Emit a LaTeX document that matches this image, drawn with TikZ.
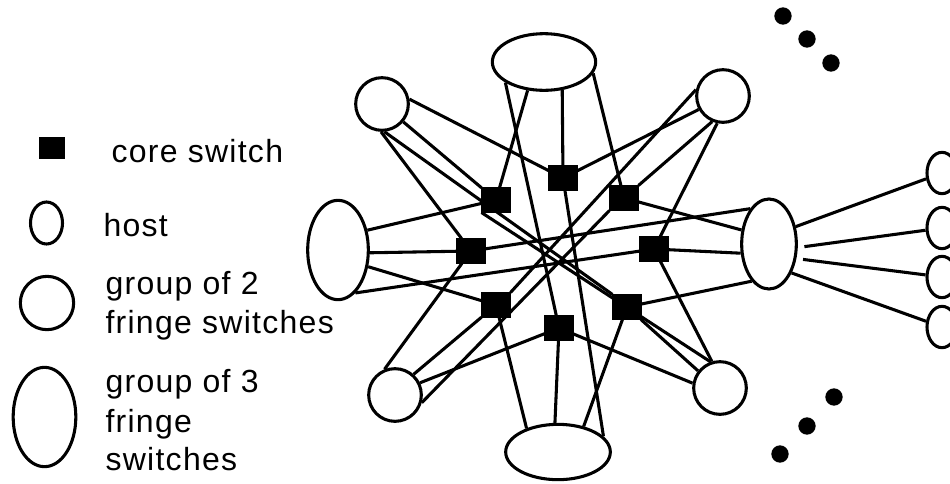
\documentclass[tikz,border=0pt]{standalone}
\usepackage{fontspec}
\setmainfont{Liberation Sans}[LetterSpace=4]
\usetikzlibrary{shapes.geometric}
\begin{document}
\begin{tikzpicture}[x=0.75pt,y=-0.75pt,line width=2.3pt,
  link/.style={draw=black,line width=2.3pt},
  core/.style={rectangle,fill=black,draw=none,inner sep=0pt,minimum width=19.5pt,minimum height=16.5pt},
  fringetwo/.style={circle,draw,line width=2.3pt,fill=white,inner sep=0pt,minimum size=39.5pt},
  fringethree/.style={ellipse,draw,line width=2.3pt,fill=white,inner sep=0pt},
  hostnode/.style={ellipse,draw,line width=2.3pt,fill=white,inner sep=0pt,minimum width=22.5pt,minimum height=31pt},
  dotnode/.style={circle,fill=black,draw=none,inner sep=0pt,minimum size=13pt},
  legendtext/.style={anchor=base west,inner sep=0pt,font=\fontsize{24}{28}\selectfont}]
\useasboundingbox (0,0) rectangle (950,483);
\clip (0,0) rectangle (950,483);

% core switches
\node[core] (S1) at (496,200) {};
\node[core] (S2) at (563,178) {};
\node[core] (S3) at (624,198) {};
\node[core] (S4) at (471,251) {};
\node[core] (S5) at (654,249) {};
\node[core] (S6) at (496,305) {};
\node[core] (S7) at (627,307) {};
\node[core] (S8) at (559,328) {};

% fringe groups: three switches (ellipses), two switches (circles)
\node[fringethree,minimum width=77.5pt,minimum height=42.5pt] (T) at (544,62) {};
\node[fringethree,minimum width=78.5pt,minimum height=41.5pt] (B) at (558,452) {};
\node[fringethree,minimum width=45.5pt,minimum height=74.5pt] (L) at (338,250) {};
\node[fringethree,minimum width=41pt,minimum height=67.5pt] (R) at (769,244) {};
\node[fringetwo] (TL) at (382,104) {};
\node[fringetwo] (TR) at (723,96) {};
\node[fringetwo] (BL) at (395,395) {};
\node[fringetwo] (BR) at (720,388) {};

% hosts
\node[hostnode] (H1) at (942,173) {};
\node[hostnode] (H2) at (942,228) {};
\node[hostnode] (H3) at (942,277) {};
\node[hostnode] (H4) at (942,327) {};

% links between fringe groups and core switches
\draw[link] (TL.10) -- (S2);
\draw[link] (TL.-40) -- (S1);
\draw[link] (TL.-85) -- (S7.north west);
\draw[link] (TL.-92) -- (S4);
\draw[link] (TR.-151) -- (S2);
\draw[link] (TR.167) -- (S6.north east);
\draw[link] (TR.-113) -- (S3);
\draw[link] (TR.-102) -- (S5);
\draw[link] (BL.112) -- (S4);
\draw[link] (BL.48) -- (S6);
\draw[link] (BL.26) -- (S8);
\draw[link] (BL.-16) -- (S3.south west);
\draw[link] (BR.107) -- (S5);
\draw[link] (BR.142) -- (S7);
\draw[link] (BR.110) -- (S1.south west);
\draw[link] (BR.170) -- (S8);
\draw[link] (T.-152) -- (S8);
\draw[link] (T.-120) -- (S1);
\draw[link] (T.-57) -- (S2);
\draw[link] (T.-13) -- (S3);
\draw[link] (B.143) -- (S6);
\draw[link] (B.96) -- (S8);
\draw[link] (B.45) -- (S7);
\draw[link] (B.19) -- (S2);
\draw[link] (L.34) -- (S1);
\draw[link] (L.-5) -- (S4);
\draw[link] (L.-29) -- (S6);
\draw[link] (L.-68) -- (S5);
\draw[link] (R.118) -- (S4);
\draw[link] (R.153) -- (S3);
\draw[link] (R.-162) -- (S5);
\draw[link] (R.-115) -- (S7);
% links from a fringe group to its hosts
\draw[link] (R.33) -- (H1);
\draw[link,shorten <=5pt] (R.-7) -- (H2);
\draw[link,shorten <=5pt] (R.-28) -- (H3);
\draw[link] (R.-52) -- (H4);

% core switches again, on top of the links
\foreach \s in {S1,S2,S3,S4,S5,S6,S7,S8} \fill (\s.south west) rectangle (\s.north east);

% ellipsis dots
\node[dotnode] (d1) at (783,16) {};
\node[dotnode] (d2) at (807,39) {};
\node[dotnode] (d3) at (831,63) {};
\node[dotnode] (d4) at (834,397) {};
\node[dotnode] (d5) at (807,426) {};
\node[dotnode] (d6) at (780,454) {};

% legend
\node[core] (kcore) at (52,148) {};
\node[hostnode,minimum width=24pt,minimum height=31.5pt] (khost) at (46.5,223) {};
\node[fringetwo,minimum size=40pt] (ktwo) at (47,303) {};
\node[fringethree,minimum width=47pt,minimum height=74.5pt] (kthree) at (44.5,417) {};
\node[legendtext] (tcore) at (110,162) {core switch};
\node[legendtext] (thost) at (102,236) {host};
\node[legendtext] (ttwoa) at (104,294) {group of 2};
\node[legendtext] (ttwob) at (104,333) {fringe switches};
\node[legendtext] (tthreea) at (104,392) {group of 3};
\node[legendtext] (tthreeb) at (104,432) {fringe};
\node[legendtext] (tthreec) at (104,470) {switches};
\end{tikzpicture}
\end{document}
